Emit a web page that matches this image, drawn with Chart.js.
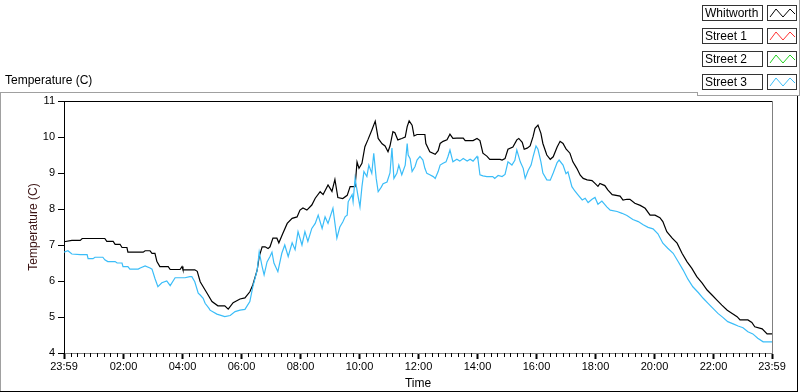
<!DOCTYPE html>
<html>
<head>
<meta charset="utf-8">
<script src="https://cdn.jsdelivr.net/npm/chart.js@4.4.0/dist/chart.umd.min.js"></script>
<style>
  html, body { margin: 0; padding: 0; background: #fff; }
  body { width: 800px; height: 392px; position: relative; overflow: hidden;
         font-family: "Liberation Sans", Arial, sans-serif; font-size: 12px; color: #000; }
  #myChart { position: absolute; left: 0; top: 0; }
  .ln { position: absolute; }
  .title { position: absolute; left: 5px; top: 73px; line-height: 14px; white-space: nowrap; }
  .lbl { position: absolute; left: 702px; width: 61px; height: 16px; box-sizing: border-box;
         border: 1px solid #333; padding-left: 2px; line-height: 14px; white-space: nowrap; }
  .ico { position: absolute; left: 767px; width: 30px; height: 16px; box-sizing: border-box;
         border: 1px solid #333; }
  .ico svg { display: block; }
</style>
</head>
<body>
<canvas id="myChart" width="800" height="392"></canvas>

<div class="title">Temperature (C)</div>
<div class="ln" style="left:0;top:92px;width:697px;height:1px;background:#a0a0a0"></div>
<div class="ln" style="left:697px;top:92px;width:1px;height:4px;background:#a0a0a0"></div>
<div class="ln" style="left:697px;top:95px;width:103px;height:1px;background:#a0a0a0"></div>
<div class="ln" style="left:799px;top:0;width:1px;height:96px;background:#a0a0a0"></div>
<div class="ln" style="left:0;top:92px;width:1px;height:300px;background:#a0a0a0"></div>
<div class="ln" style="left:797px;top:96px;width:1px;height:296px;background:#000"></div>
<div class="ln" style="left:0;top:391px;width:798px;height:1px;background:#000"></div>

<div id="legend"></div>

<script>
// time in minutes after 23:59
const tickMinutes = [0, 121, 241, 361, 481, 601, 721, 841, 961, 1081, 1201, 1321, 1440];
const tickLabels = ['23:59', '02:00', '04:00', '06:00', '08:00', '10:00', '12:00',
                    '14:00', '16:00', '18:00', '20:00', '22:00', '23:59'];

const seriesNames = ['Whitworth', 'Street 1', 'Street 2', 'Street 3'];
const seriesColors = ['#000000', '#ff3030', '#20d020', '#3bbdf8'];

const whitworthMin = [0,16,33,37,83,87,100,104,114,118,
  128,130,161,165,175,179,185,189,195,212,
  216,236,240,242,266,271,277,287,291,301,
  313,327,334,344,358,368,378,384,393,397,
  403,409,415,419,425,433,437,445,454,464,
  474,480,486,494,504,511,521,527,537,545,
  551,557,567,576,582,592,596,600,606,612,
  618,626,633,639,647,653,659,663,669,673,
  679,687,694,698,702,708,712,718,734,736,
  744,755,761,765,771,779,785,791,799,812,
  816,832,840,846,852,860,866,887,891,897,
  903,913,921,925,932,936,942,948,954,958,
  964,970,974,982,989,995,1003,1009,1015,1021,
  1029,1035,1043,1050,1056,1064,1074,1080,1086,1090,
  1100,1106,1115,1131,1137,1145,1151,1161,1172,1182,
  1192,1202,1212,1218,1226,1237,1247,1257,1267,1277,
  1287,1298,1308,1318,1328,1338,1349,1359,1369,1375,
  1391,1399,1405,1420,1430,1440];
const whitworth = [7.09,7.13,7.13,7.18,7.18,7.10,7.10,7.02,7.02,6.93,
  6.93,6.80,6.80,6.84,6.84,6.77,6.77,6.54,6.40,6.40,
  6.32,6.32,6.40,6.31,6.31,6.27,5.98,5.75,5.66,5.43,
  5.31,5.31,5.22,5.40,5.50,5.53,5.70,5.89,6.31,6.68,
  6.95,6.95,6.90,6.95,7.19,7.19,7.06,7.32,7.60,7.74,
  7.78,7.97,8.03,7.97,8.11,8.30,8.48,8.40,8.67,8.49,
  8.82,8.32,8.29,8.38,8.62,8.62,9.31,9.13,9.27,9.73,
  9.92,10.19,10.44,9.96,9.81,9.75,9.59,9.75,10.15,10.12,
  9.92,9.96,10.00,10.29,10.45,10.33,10.03,10.07,10.07,9.82,
  9.59,9.52,9.62,9.82,9.88,9.92,10.08,9.96,9.97,9.97,
  9.90,9.90,9.96,9.90,9.55,9.47,9.38,9.38,9.36,9.40,
  9.66,9.72,9.92,9.96,9.85,9.66,9.69,9.75,10.01,10.24,
  10.33,10.10,9.82,9.50,9.38,9.45,9.72,9.88,9.82,9.67,
  9.55,9.31,9.13,8.94,8.85,8.81,8.79,8.71,8.63,8.71,
  8.65,8.53,8.40,8.36,8.25,8.27,8.27,8.16,8.10,8.02,
  7.83,7.83,7.76,7.65,7.37,7.19,7.05,6.77,6.54,6.35,
  6.12,5.94,5.75,5.61,5.47,5.33,5.19,5.10,5.01,4.92,
  4.92,4.85,4.73,4.67,4.53,4.53];

const street3Min = [0,8,16,33,47,49,59,63,79,83,
  89,104,108,118,120,130,134,151,155,165,
  175,179,185,191,199,209,216,226,246,256,
  260,266,273,277,283,287,295,297,311,327,
  338,348,358,368,378,384,393,397,403,407,
  413,419,423,427,435,443,449,456,464,470,
  476,484,490,496,504,511,517,525,531,537,
  547,555,561,567,572,576,578,586,588,592,
  598,602,606,610,616,620,626,630,635,639,
  645,649,657,663,667,671,677,681,687,694,
  698,700,704,708,714,718,724,730,734,738,
  744,751,755,761,765,771,777,781,785,791,
  799,805,812,820,826,832,840,842,846,852,
  860,872,876,883,891,897,903,911,917,921,
  928,934,938,944,950,954,960,964,970,974,
  982,989,995,1003,1007,1015,1021,1025,1033,1039,
  1045,1054,1060,1066,1074,1080,1086,1094,1104,1111,
  1125,1135,1145,1157,1168,1178,1188,1198,1208,1218,
  1228,1239,1249,1259,1269,1279,1290,1300,1310,1320,
  1330,1340,1350,1361,1371,1381,1391,1401,1411,1422,
  1440];
const street3 = [6.80,6.84,6.75,6.73,6.73,6.62,6.62,6.66,6.66,6.59,
  6.54,6.54,6.50,6.50,6.40,6.40,6.33,6.33,6.36,6.42,
  6.36,6.33,6.07,5.84,5.95,6.00,5.87,6.09,6.09,6.12,
  6.12,5.98,5.66,5.61,5.52,5.38,5.24,5.19,5.08,5.01,
  5.04,5.15,5.19,5.21,5.43,5.84,6.31,6.81,6.40,6.17,
  6.53,6.68,6.80,6.50,6.26,6.77,7.00,6.68,7.06,6.87,
  7.37,7.00,7.37,7.10,7.46,7.60,7.83,7.46,7.78,7.60,
  8.02,7.19,7.50,7.64,7.79,7.83,8.20,8.40,8.20,8.85,
  8.36,8.06,8.62,9.04,8.90,9.22,8.99,9.55,8.85,8.48,
  8.60,8.70,8.75,9.00,9.69,8.85,8.99,9.22,8.95,9.22,
  9.82,9.50,9.40,9.04,9.18,9.36,9.46,9.36,9.13,8.99,
  8.95,8.90,8.85,9.04,9.22,9.27,9.31,9.46,9.64,9.31,
  9.38,9.33,9.40,9.33,9.38,9.33,9.46,9.38,8.95,8.92,
  8.90,8.90,8.85,8.93,8.90,8.96,9.31,9.22,9.35,9.64,
  9.31,9.13,8.85,9.07,9.22,9.45,9.75,9.66,9.31,9.00,
  8.81,8.80,9.00,9.29,9.36,9.22,8.98,9.03,8.62,8.50,
  8.40,8.25,8.30,8.18,8.27,8.32,8.13,8.22,8.06,7.97,
  7.93,7.88,7.82,7.71,7.65,7.56,7.49,7.45,7.31,7.05,
  6.91,6.77,6.54,6.31,6.05,5.84,5.68,5.52,5.38,5.24,
  5.10,4.99,4.87,4.81,4.75,4.70,4.59,4.53,4.41,4.31,
  4.31];

// Street 1 and Street 2 have no samples in this view
const street1 = [];
const street2 = [];

const toPoints = (mins, vals) => mins.map((m, i) => ({x: m, y: vals[i]}));

// legend boxes, LabVIEW style
const legendTops = [5, 28, 51, 74];
let html = '';
seriesNames.forEach((n, i) => {
  const t = legendTops[i];
  html += '<div class="lbl" style="top:' + t + 'px">' + n + '</div>';
  html += '<div class="ico" style="top:' + t + 'px"><svg width="28" height="14">' +
    '<polyline points="2,11 8,3 15,11 22,3 27,8" fill="none" stroke="' + seriesColors[i] + '" stroke-width="1"/></svg></div>';
});
document.getElementById('legend').innerHTML = html;

// top/right edge of plot and minor ticks of the time axis
const plotFrame = {
  id: 'plotFrame',
  afterDraw(chart) {
    const {ctx, chartArea: a} = chart;
    const x = chart.scales.x;
    ctx.save();
    ctx.lineWidth = 1;
    ctx.strokeStyle = '#000';
    ctx.beginPath();
    ctx.moveTo(a.left, a.top + 0.5);
    ctx.lineTo(a.right, a.top + 0.5);
    ctx.stroke();
    ctx.strokeStyle = '#808080';
    ctx.beginPath();
    ctx.moveTo(a.right + 0.5, a.top);
    ctx.lineTo(a.right + 0.5, a.bottom);
    ctx.stroke();
    ctx.strokeStyle = '#000';
    for (let i = 0; i < tickMinutes.length - 1; i++) {
      const m0 = tickMinutes[i], m1 = tickMinutes[i + 1];
      for (let k = 1; k <= 8; k++) {
        const px = Math.round(x.getPixelForValue(m0 + (m1 - m0) * k / 9)) + 0.5;
        ctx.beginPath();
        ctx.moveTo(px, a.bottom);
        ctx.lineTo(px, a.bottom + 4);
        ctx.stroke();
      }
    }
    ctx.restore();
  }
};

const font = {family: '"Liberation Sans", Arial, sans-serif', size: 12};
const tickFont = {family: '"Liberation Sans", Arial, sans-serif', size: 11};

new Chart(document.getElementById('myChart'), {
  type: 'line',
  data: {
    datasets: [
      {label: seriesNames[0], data: toPoints(whitworthMin, whitworth), borderColor: seriesColors[0]},
      {label: seriesNames[1], data: street1, borderColor: seriesColors[1]},
      {label: seriesNames[2], data: street2, borderColor: seriesColors[2]},
      {label: seriesNames[3], data: toPoints(street3Min, street3), borderColor: seriesColors[3]}
    ].reverse()
  },
  options: {
    responsive: false,
    animation: false,
    layout: {padding: {left: 0, top: 101, right: 28, bottom: 0}},
    elements: {
      point: {radius: 0},
      line: {borderWidth: 1.2, tension: 0}
    },
    plugins: {legend: {display: false}, tooltip: {enabled: false}},
    scales: {
      x: {
        type: 'linear',
        min: 0,
        max: 1440,
        afterFit(s) { s.height = 39; },
        afterBuildTicks(s) { s.ticks = tickMinutes.map(v => ({value: v})); },
        ticks: {
          autoSkip: false, maxRotation: 0, padding: 1, color: '#000', font: tickFont,
          callback: (v, i) => tickLabels[i]
        },
        grid: {drawOnChartArea: false, tickLength: 6, tickColor: '#000', tickWidth: 2},
        border: {color: '#808080', width: 1},
        title: {display: true, text: 'Time', color: '#000', font: font, padding: {top: 0, bottom: 1}}
      },
      y: {
        min: 4,
        max: 11,
        afterFit(s) { s.width = 64; },
        ticks: {stepSize: 1, padding: 3, color: '#000', font: tickFont},
        grid: {drawOnChartArea: false, tickLength: 6, tickColor: '#000'},
        border: {color: '#000', width: 1},
        title: {display: true, text: 'Temperature (C)', color: '#3a1212', font: font, padding: {top: 26, bottom: 0}}
      }
    }
  },
  plugins: [plotFrame]
});
</script>
</body>
</html>
